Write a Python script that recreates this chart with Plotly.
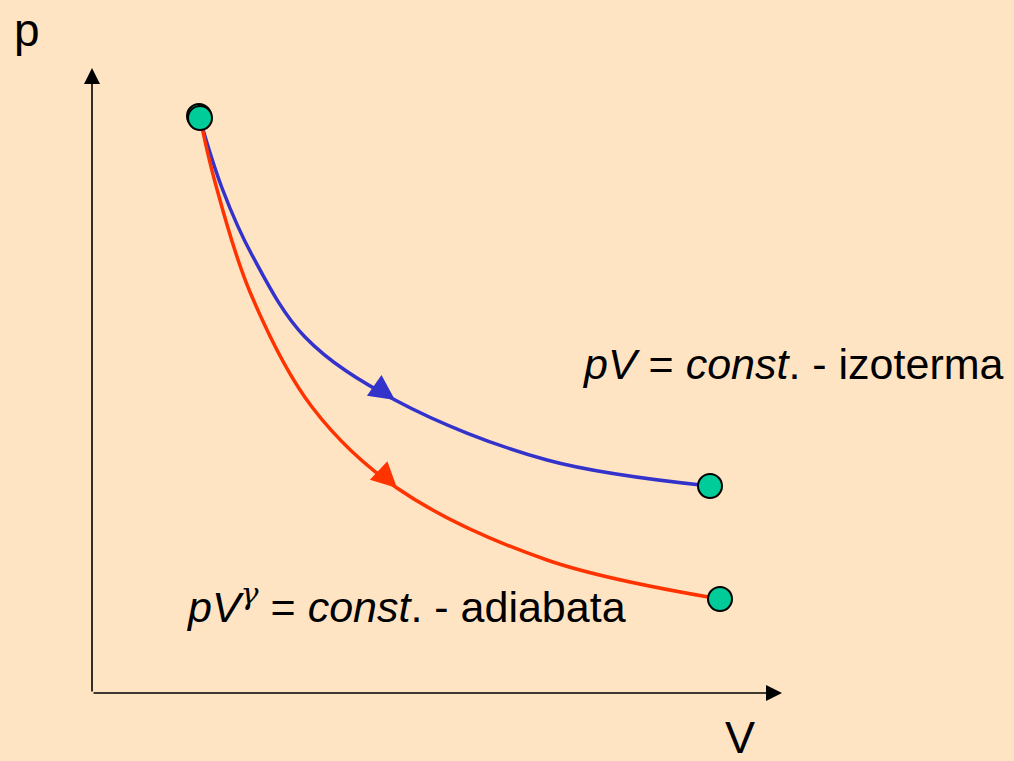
import plotly.graph_objects as go

# Curve samples (V, p in drawing units; origin at the axes corner)
iso_V = [107, 130, 160, 213, 303, 455, 618]
iso_p = [577, 505, 438, 356, 293, 233, 207]
adi_V = [108, 123, 158, 220, 305, 455, 628]
adi_p = [575, 511, 401, 286, 205, 133, 94]
arrow_idx = 4          # sample where each direction arrow tip sits
axis_V_max = 690
axis_p_max = 625

iso_label = "<i>pV</i> = <i>const</i>. - izoterma"
adi_label = "<i>pV</i><sup><span style='font-family:DejaVu Serif'><i>γ</i></span></sup> = <i>const</i>. - adiabata"

BG = "#FFE4C4"
BLUE = "#3333CC"
RED = "#FF3300"
GREEN = "#00CC99"
FONT = "Liberation Sans, Arial, sans-serif"

fig = go.Figure()

fig.add_trace(go.Scatter(x=iso_V, y=iso_p, mode="lines",
                         line=dict(color=BLUE, width=3.5, shape="spline", smoothing=1.0),
                         hoverinfo="skip", showlegend=False))
fig.add_trace(go.Scatter(x=adi_V, y=adi_p, mode="lines",
                         line=dict(color=RED, width=3.5, shape="spline", smoothing=1.0),
                         hoverinfo="skip", showlegend=False))

annotations = []
# axes with arrowheads
annotations.append(dict(x=0, y=axis_p_max, ax=0, ay=0, xref="x", yref="y", axref="x", ayref="y",
                        text="", showarrow=True, arrowhead=2, arrowsize=2, arrowwidth=1.6, arrowcolor="black"))
annotations.append(dict(x=axis_V_max, y=0, ax=0, ay=0, xref="x", yref="y", axref="x", ayref="y",
                        text="", showarrow=True, arrowhead=2, arrowsize=2, arrowwidth=1.6, arrowcolor="black"))
# direction arrows on curves
for Vs, ps, col in [(iso_V, iso_p, BLUE), (adi_V, adi_p, RED)]:
    annotations.append(dict(x=Vs[arrow_idx], y=ps[arrow_idx], ax=Vs[arrow_idx - 1], ay=ps[arrow_idx - 1],
                            xref="x", yref="y", axref="x", ayref="y", text="", showarrow=True,
                            arrowhead=2, arrowsize=1.45, arrowwidth=3.5, arrowcolor=col, startstandoff=92))

# endpoint markers
for Vs, ps in [(iso_V, iso_p), (adi_V, adi_p)]:
    fig.add_trace(go.Scatter(x=[Vs[0], Vs[-1]], y=[ps[0], ps[-1]], mode="markers",
                             marker=dict(size=24, color=GREEN, line=dict(color="black", width=2)),
                             hoverinfo="skip", showlegend=False))

annotations.append(dict(x=488, y=329, xref="x", yref="y", text=iso_label, showarrow=False,
                        xanchor="left", yanchor="middle", font=dict(family=FONT, size=43, color="black")))
annotations.append(dict(x=92, y=90, xref="x", yref="y", text=adi_label, showarrow=False,
                        xanchor="left", yanchor="middle", font=dict(family=FONT, size=43, color="black")))
annotations.append(dict(x=-65, y=663, xref="x", yref="y", text="p", showarrow=False,
                        xanchor="center", yanchor="middle", font=dict(family=FONT, size=46, color="black")))
annotations.append(dict(x=648, y=-44, xref="x", yref="y", text="V", showarrow=False,
                        xanchor="center", yanchor="middle", font=dict(family=FONT, size=45, color="black")))

fig.update_layout(
    width=1014, height=761,
    margin=dict(l=0, r=0, t=0, b=0),
    paper_bgcolor=BG, plot_bgcolor=BG,
    xaxis=dict(range=[-92, 922], visible=False, fixedrange=True),
    yaxis=dict(range=[-68, 693], visible=False, fixedrange=True),
    annotations=annotations,
    showlegend=False,
)

fig.write_html("out.html", config={"displayModeBar": False},
               post_script="document.body.style.margin='0';document.body.style.background='" + BG + "';")
